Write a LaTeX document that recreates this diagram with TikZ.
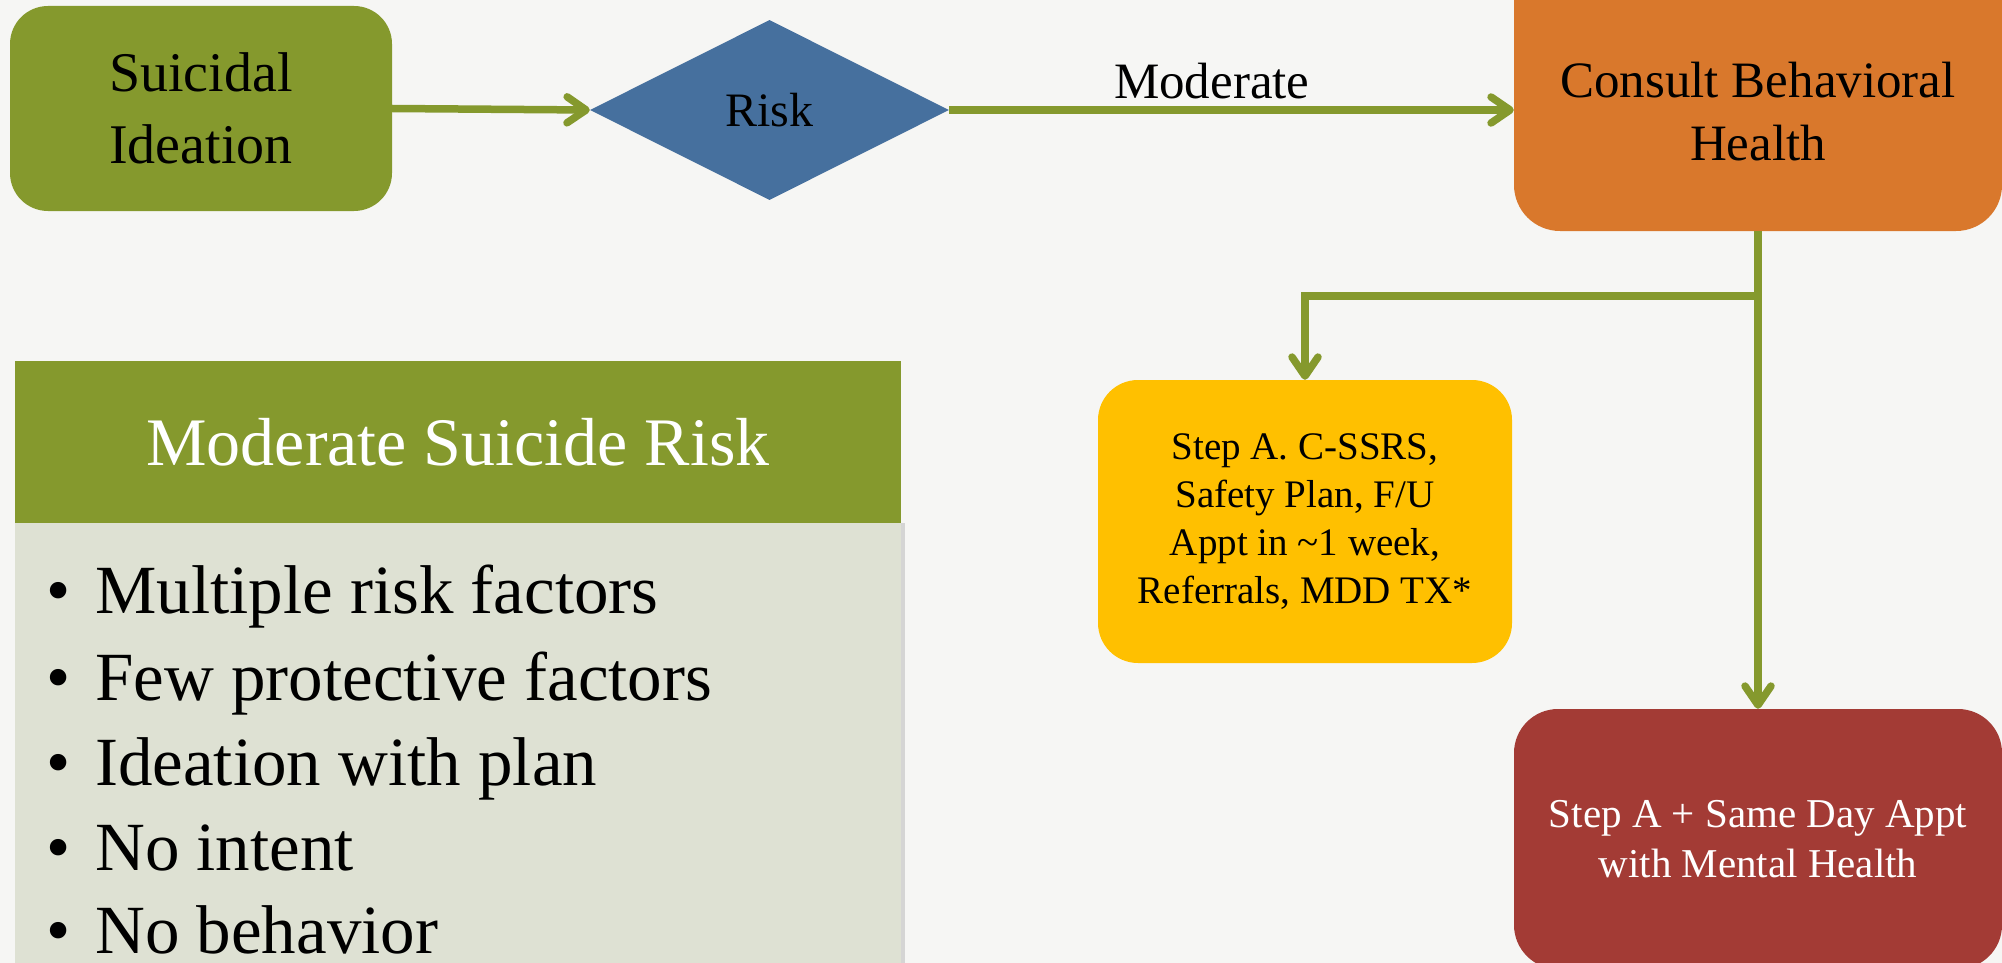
\documentclass[tikz,border=0pt]{standalone}
\usepackage{fontspec}
\setmainfont{Liberation Serif}
\usetikzlibrary{arrows.meta,shapes.geometric}
\definecolor{cOlive}{HTML}{85992D}
\definecolor{cBlue}{HTML}{46709E}
\definecolor{cOrange}{HTML}{D9782C}
\definecolor{cYellow}{HTML}{FFC000}
\definecolor{cRed}{HTML}{A33B35}
\definecolor{cPanel}{HTML}{DEE1D3}
\definecolor{cBack}{HTML}{F6F6F4}
\tikzset{
  box/.style={rectangle, rounded corners=#1, inner sep=0pt, align=center, text=black},
  conn/.style={draw=cOlive, line width=7.5pt},
  arr/.style={conn, -{Straight Barb[length=19pt,width=26pt,round]}},
  bullet/.style={anchor=base west, inner sep=0pt, font=\fontsize{69}{80}\selectfont},
}
\begin{document}
\begin{tikzpicture}[x=1pt,y=-1pt]
\fill[cBack] (0,0) rectangle (2002,963);
\useasboundingbox (0,0) rectangle (2002,963);

% nodes
\node[box=38pt, fill=cOlive, minimum width=382pt, minimum height=205pt,
      font=\fontsize{56}{72}\selectfont] (si) at (201,108.5) {Suicidal\\Ideation};
\node[diamond, aspect=2, fill=cBlue, minimum width=359pt, minimum height=180pt, inner sep=0pt,
      font=\fontsize{48}{58}\selectfont] (risk) at (769.5,110) {Risk};
\node[box=46pt, fill=cOrange, minimum width=488pt, minimum height=311pt] (cbh) at (1758,75.5) {};
\node[align=center, inner sep=0pt, font=\fontsize{51}{63}\selectfont] (cbht) at (1758,112) {Consult Behavioral\\Health};
\node[box=40pt, fill=cYellow, minimum width=414pt, minimum height=283pt,
      font=\fontsize{39}{48}\selectfont] (ya) at (1305,521.5) {Step A. C-SSRS,\\Safety Plan, F/U\\Appt in \textasciitilde1 week,\\Referrals, MDD TX*};
\node[box=44pt, fill=cRed, minimum width=488pt, minimum height=260pt, text=white,
      font=\fontsize{41}{50}\selectfont] (rb) at (1758,839) {Step A + Same Day Appt\\with Mental Health};

% panel
\fill[black!25, opacity=0.6] (19,523) rectangle (905,975);
\node[rectangle, fill=cPanel, minimum width=886pt, minimum height=452pt, inner sep=0pt] (body) at (458,749) {};
\node[rectangle, fill=cOlive, minimum width=886pt, minimum height=162pt, inner sep=0pt, text=white,
      font=\fontsize{68}{80}\selectfont] (hdr) at (458,442) {Moderate Suicide Risk};

\foreach \t/\yy [count=\i] in {Multiple risk factors/613, Few protective factors/700, Ideation with plan/785, No intent/870, No behavior/953}{
  \node[bullet] (bd\i) at (46,\yy) {•};
  \node[bullet] (bt\i) at (95,\yy) {\t};
}

% connectors
\draw[arr] (si.east) -- (risk.west);
\draw[arr] (risk.east) -- node[pos=0.465, above=4pt, font=\fontsize{51}{60}\selectfont, text=black] (lbl) {Moderate} (cbh.west |- risk.east);
\coordinate (br) at (cbh.south |- 0,296);
\draw[arr] (cbh.south) -- (rb.north);
\draw[arr] ([xshift=3.75pt]br) -- (ya.north |- br) -- (ya.north);
\end{tikzpicture}
\end{document}
